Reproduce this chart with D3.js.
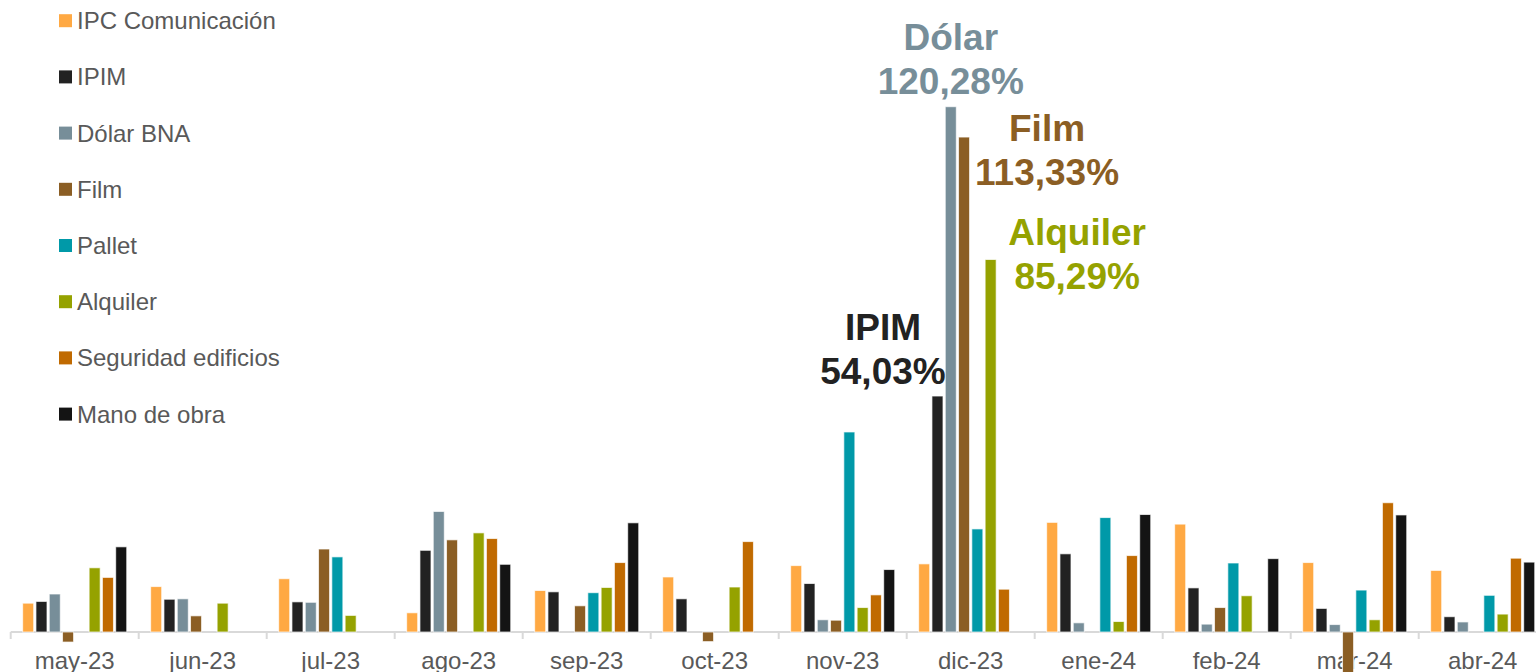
<!DOCTYPE html>
<html>
<head>
<meta charset="utf-8">
<script src="https://cdn.jsdelivr.net/npm/d3@7"></script>
<style>
  body { margin: 0; background: #fff; }
  svg { display: block; font-family: "Liberation Sans", Arial, sans-serif; }
</style>
</head>
<body>
<div id="chart"></div>
<script>
// --- data (% variation) ---
const months = ["may-23", "jun-23", "jul-23", "ago-23", "sep-23", "oct-23",
                "nov-23", "dic-23", "ene-24", "feb-24", "mar-24", "abr-24"];

const seriesNames = ["IPC Comunicación", "IPIM", "Dólar BNA", "Film", "Pallet",
                     "Alquiler", "Seguridad edificios", "Mano de obra"];

const seriesColors = ["#FFA943", "#222222", "#778E99", "#8B5E24", "#0099A8",
                      "#95A200", "#C06A00", "#141414"];

const ipcComunicacion = [6.6, 10.4, 12.2, 4.4, 9.5, 12.6, 15.2, 15.6, 25.1, 24.7, 15.9, 14.1];
const ipim            = [7.0, 7.5, 6.9, 18.7, 9.2, 7.6, 11.1, 54.03, 17.9, 10.1, 5.4, 3.5];
const dolarBna        = [8.7, 7.6, 6.8, 27.6, null, null, 2.8, 120.28, 2.1, 1.8, 1.7, 2.3];
const film            = [-2.3, 3.7, 19.0, 21.1, 6.0, -2.2, 2.7, 113.33, null, 5.6, -10.0, null];
const pallet          = [null, null, 17.2, null, 9.0, null, 45.8, 23.6, 26.2, 15.8, 9.6, 8.4];
const alquiler        = [14.7, 6.6, 3.8, 22.7, 10.2, 10.3, 5.6, 85.29, 2.4, 8.3, 2.8, 4.1];
const seguridad       = [12.5, null, null, 21.4, 15.9, 20.7, 8.5, 9.8, 17.5, null, 29.6, 16.9];
const manoDeObra      = [19.5, null, null, 15.5, 25.0, null, 14.3, null, 26.9, 16.8, 26.8, 16.0];

const seriesValues = [ipcComunicacion, ipim, dolarBna, film, pallet, alquiler, seguridad, manoDeObra];

// callouts on the dic-23 peaks
const callouts = [
    { series: "Dólar BNA", label: "Dólar", month: "dic-23" },
    { series: "Film", label: "Film", month: "dic-23" },
    { series: "Alquiler", label: "Alquiler", month: "dic-23" },
    { series: "IPIM", label: "IPIM", month: "dic-23" }
];

// --- layout ---
const width = 1536;
const height = 672;
const baseY = 632;
const textColor = "#595959";

const svg = d3.select("#chart")
    .append("svg")
    .attr("width", width)
    .attr("height", height);

// the plot runs a bit past the right edge, as in the original
const x0 = d3.scaleBand()
    .domain(months)
    .range([10.7, 10.7 + 12 * 128])
    .padding(0);

const x1 = d3.scaleBand()
    .domain(seriesNames)
    .range([0, x0.bandwidth()])
    .paddingInner(0.17)
    .paddingOuter(0.9);

const y = d3.scaleLinear()
    .domain([0, 120.28])
    .range([baseY, 106.7]);

const color = d3.scaleOrdinal().domain(seriesNames).range(seriesColors);

// flatten to one record per bar
const bars = [];
months.forEach((m, i) => {
    seriesNames.forEach((s, j) => {
        const v = seriesValues[j][i];
        if (v !== null) bars.push({ month: m, series: s, value: v });
    });
});

// --- x axis (labels first, bars are drawn over them) ---
const axis = d3.axisBottom(x0).tickSize(0).tickPadding(0);
const axisG = svg.append("g")
    .attr("transform", `translate(0, ${baseY})`)
    .call(axis);
axisG.select(".domain").remove();
axisG.selectAll("text")
    .attr("y", 37)
    .attr("dy", 0)
    .attr("fill", textColor)
    .style("font-size", "24px");

svg.append("line")
    .attr("x1", x0.range()[0])
    .attr("x2", x0.range()[1])
    .attr("y1", baseY)
    .attr("y2", baseY)
    .attr("stroke", "#d9d9d9")
    .attr("stroke-width", 2);

const boundaries = months.map(m => x0(m)).concat([x0.range()[1]]);
svg.append("g").selectAll("line")
    .data(boundaries)
    .enter()
    .append("line")
    .attr("x1", d => d)
    .attr("x2", d => d)
    .attr("y1", baseY)
    .attr("y2", baseY + 7)
    .attr("stroke", "#d9d9d9")
    .attr("stroke-width", 2);

// --- bars ---
svg.append("g").selectAll("rect")
    .data(bars)
    .enter()
    .append("rect")
    .attr("x", d => x0(d.month) + x1(d.series))
    .attr("y", d => Math.min(y(d.value), y(0)))
    .attr("width", x1.bandwidth())
    .attr("height", d => Math.abs(y(d.value) - y(0)))
    .attr("fill", d => color(d.series))
    .attr("stroke", "#fff")
    .attr("stroke-opacity", 0.7)
    .attr("stroke-width", 1);

// --- legend ---
const legend = svg.append("g").selectAll("g")
    .data(seriesNames)
    .enter()
    .append("g")
    .attr("transform", (d, i) => `translate(59, ${20.7 + i * 56.2})`);

legend.append("rect")
    .attr("x", 0)
    .attr("y", -6.5)
    .attr("width", 13)
    .attr("height", 13)
    .attr("fill", d => color(d));

legend.append("text")
    .attr("x", 18)
    .attr("y", 8.5)
    .attr("fill", textColor)
    .style("font-size", "24px")
    .text(d => d);

// --- callouts ---
const fmt = v => d3.format(".2f")(v).replace(".", ",") + "%";
const calloutOffsets = {
    "Dólar":    { dx: 0,   dy: -12.7 },
    "Film":     { dx: 83,  dy: 48.3 },
    "Alquiler": { dx: 86.5, dy: 29 },
    "IPIM":     { dx: -54.5, dy: -11.7 }
};

callouts.forEach(c => {
    const j = seriesNames.indexOf(c.series);
    const i = months.indexOf(c.month);
    const v = seriesValues[j][i];
    const cx = x0(c.month) + x1(c.series) + x1.bandwidth() / 2 + calloutOffsets[c.label].dx;
    const by = y(v) + calloutOffsets[c.label].dy;
    const fill = c.series === "IPIM" ? "#222222" : color(c.series);

    const t = svg.append("text")
        .attr("text-anchor", "middle")
        .attr("fill", fill)
        .style("font-size", "37px")
        .style("font-weight", "bold");
    t.append("tspan").attr("x", cx).attr("y", by - 44).text(c.label);
    t.append("tspan").attr("x", cx).attr("y", by).text(fmt(v));
});
</script>
</body>
</html>
